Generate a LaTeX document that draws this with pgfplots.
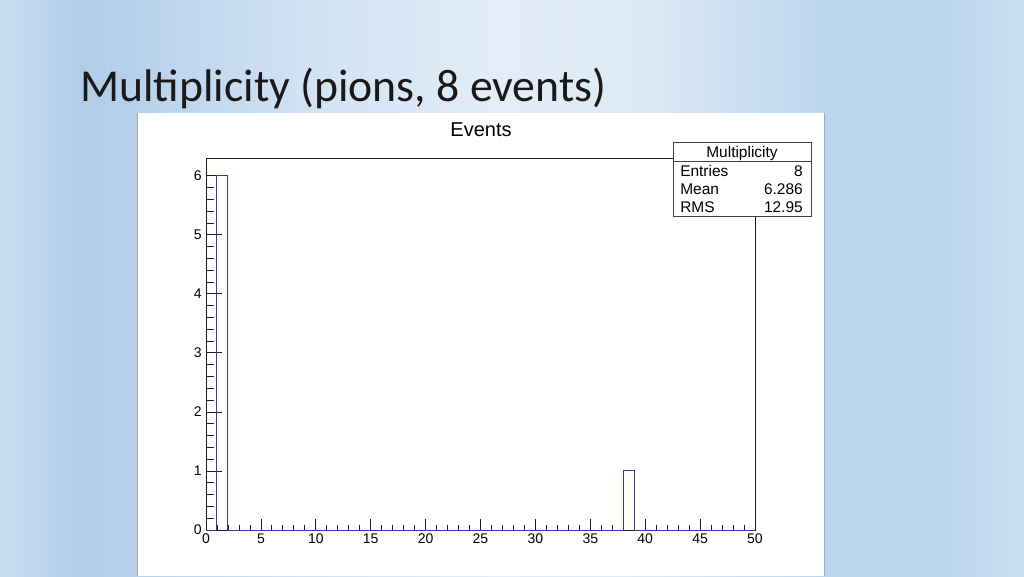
\documentclass[border=0pt]{standalone}
\usepackage{fontspec}
\usepackage{pgfplots}
\pgfplotsset{compat=1.18}
\newfontfamily\rootfont{Liberation Sans}
\newfontfamily\slidefont{Carlito}

\definecolor{histblue}{RGB}{55,55,170}
\definecolor{framegray}{RGB}{30,30,30}
\definecolor{bga}{HTML}{C9DDEF}
\definecolor{bgb}{HTML}{C0D7EE}
\definecolor{bgc}{HTML}{AFCCE9}
\definecolor{bgd}{HTML}{B8D2EC}
\definecolor{bge}{HTML}{D0E2F3}
\definecolor{bgf}{HTML}{E2EDF8}
\definecolor{bgg}{HTML}{DDE9F6}
\definecolor{bgh}{HTML}{BAD5ED}
\definecolor{bgi}{HTML}{BCD6ED}
\definecolor{bgj}{HTML}{CADFF1}
% x in px -> 25 + 50*x/1024 bp
\pgfdeclarehorizontalshading{slidebg}{100bp}{color(0bp)=(bga); color(25bp)=(bga);
  color(26.46bp)=(bgb); color(28.91bp)=(bgc); color(31.84bp)=(bgd);
  color(39.65bp)=(bge); color(49.41bp)=(bgf); color(56.74bp)=(bgg);
  color(65.53bp)=(bgh); color(71.39bp)=(bgi); color(75bp)=(bgj); color(100bp)=(bgj)}

\begin{document}
\begin{tikzpicture}[x=0.75pt,y=-0.75pt]
\useasboundingbox (0,0) rectangle (1024,576);
% slide background
\shade[shading=slidebg] (0,0) rectangle (1024,576);
\node[anchor=base west, inner sep=0pt, text=black!90,
  font=\slidefont\fontsize{34.3}{40}\selectfont] at (80,101) {Multiplicity (pions, 8 events)};
% ROOT canvas
\fill[white] (137,113) rectangle (824,576);
\draw[gray!70, line width=0.6pt] (137,113) -- (137,576) (824,113) -- (824,576);
\node[anchor=base, inner sep=0pt, font=\rootfont\fontsize{15}{18}\selectfont] at (481,136) {Events};
\coordinate (frameSW) at (206,530);

\begin{axis}[
    at={(frameSW)}, anchor=south west,
    width=411.75pt, height=279pt, scale only axis,
    xmin=0, xmax=50, ymin=0, ymax=6.3,
    xtick={0,5,...,50}, ytick={0,...,6},
    minor x tick num=4, minor y tick num=4,
    tick align=inside, tick pos=left,
    axis line style={framegray, line width=0.6pt},
    xtick style={framegray, line width=0.6pt,
      /pgfplots/major tick length=8.25pt, /pgfplots/minor tick length=4.1pt},
    ytick style={framegray, line width=0.6pt,
      /pgfplots/major tick length=12pt, /pgfplots/minor tick length=6pt},
    ticklabel style={font=\rootfont\fontsize{10.5}{12}\selectfont},
    xticklabel style={anchor=north, text height=7.6pt, text depth=0pt, inner sep=2.5pt},
    yticklabel style={anchor=east, inner sep=3pt},
    /pgf/number format/assume math mode=true,
    clip=false,
]
% bin lower edge, bin content (bin width 1)
\addplot[const plot, histblue, line width=0.75pt] coordinates {
    (0,0) (1,6) (2,0) (3,0) (4,0) (5,0) (6,0) (7,0) (8,0) (9,0)
    (10,0) (11,0) (12,0) (13,0) (14,0) (15,0) (16,0) (17,0) (18,0) (19,0)
    (20,0) (21,0) (22,0) (23,0) (24,0) (25,0) (26,0) (27,0) (28,0) (29,0)
    (30,0) (31,0) (32,0) (33,0) (34,0) (35,0) (36,0) (37,0) (38,1) (39,0)
    (40,0) (41,0) (42,0) (43,0) (44,0) (45,0) (46,0) (47,0) (48,0) (49,0)
    (50,0)
};
\end{axis}

% stats box
\filldraw[fill=white, draw=black!75, line width=0.6pt] (673,142) rectangle (811,216);
\draw[black!75, line width=0.6pt] (673,161) -- (811,161);
\begin{scope}[every node/.style={inner sep=0pt, font=\rootfont\fontsize{11.6}{14}\selectfont}]
\node[anchor=base] at (742,157) {Multiplicity};
\node[anchor=base west] at (680,176) {Entries};
\node[anchor=base west] at (680,194) {Mean};
\node[anchor=base west] at (680,212) {RMS};
\node[anchor=base east] at (803,176) {8};
\node[anchor=base east] at (803,194) {6.286};
\node[anchor=base east] at (803,212) {12.95};
\end{scope}
\end{tikzpicture}
\end{document}
